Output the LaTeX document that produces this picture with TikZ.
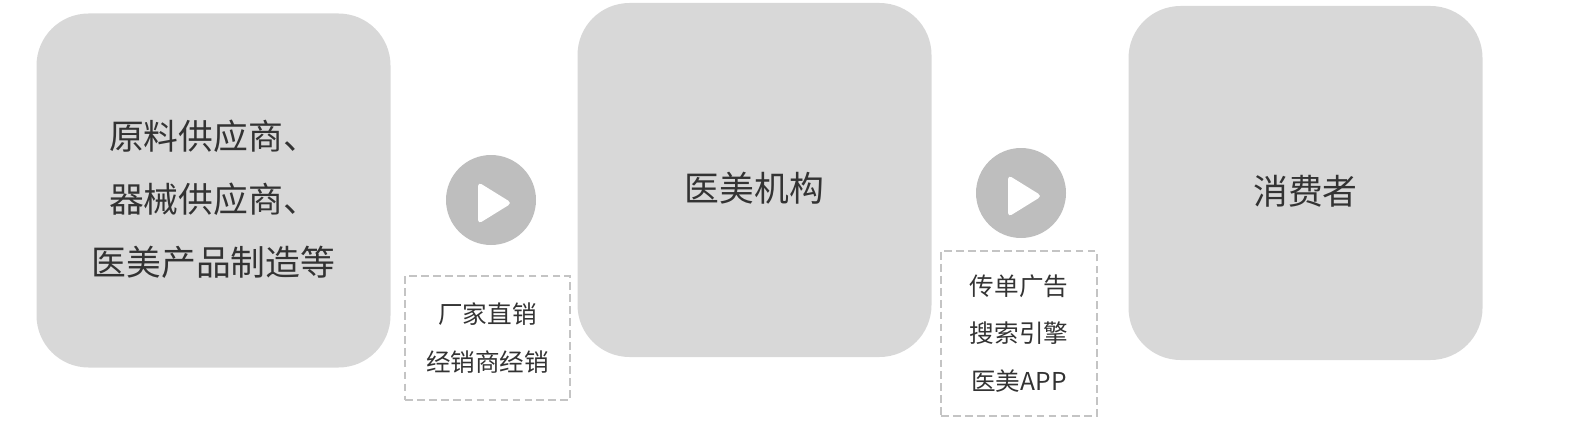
\documentclass[tikz,border=0pt]{standalone}
\usepackage{fontspec}
\setmainfont{Noto Sans CJK SC}
\usepackage{tikz}
\usetikzlibrary{positioning}
\usepackage{xcolor}

\definecolor{boxgrey}{HTML}{D8D8D8}
\definecolor{dotgrey}{HTML}{BEBEBE}
\definecolor{dashgrey}{HTML}{C4C4C4}
\definecolor{ink}{HTML}{333333}

\tikzset{
  stage/.style={rectangle, fill=boxgrey, rounded corners=5.2mm, inner sep=0pt,
    minimum width=35.4mm, minimum height=35.4mm},
  bigtext/.style={text=ink, align=center, inner sep=0pt, font=\fontsize{9.9pt}{17.9pt}\selectfont},
  playdot/.style={circle, fill=dotgrey, inner sep=0pt, minimum size=9mm},
  channel/.style={rectangle, draw=dashgrey, line width=0.4pt, dash pattern=on 2.2pt off 1.2pt,
    text=ink, align=center, inner sep=0pt, font=\fontsize{7pt}{13.6pt}\selectfont}
}

\begin{document}
\begin{tikzpicture}[x=0.1mm,y=-0.1mm]
\useasboundingbox (0,0) rectangle (1593,427);
% the three stages
\node[stage] (maker) at (213.5,190.5) {};
\node[stage] (clinic) at (754.5,180) {};
\node[stage] (buyer) at (1305.5,183) {};
\node[bigtext] (makertext) at ([yshift=-0.85mm]maker.center) {原料供应商、\\器械供应商、\\医美产品制造等};
\node[bigtext] (clinictext) at ([yshift=-0.85mm]clinic.center) {医美机构};
\node[bigtext] (buyertext) at ([yshift=-0.85mm]buyer.center) {消费者};
% play marks between the stages
\node[playdot] (play1) at (491,200) {};
\node[playdot] (play2) at (1021,193) {};
\fill[white, rounded corners=1.2pt, shift={(play1.center)}] (-13,-18) -- (-13,24) -- (21,3) -- cycle;
\fill[white, rounded corners=1.2pt, shift={(play2.center)}] (-13,-18) -- (-13,24) -- (21,3) -- cycle;
% channels
\node[channel, minimum width=16.5mm, minimum height=12.4mm] (supply) at (487.5,338) {厂家直销\\经销商经销};
\node[channel, minimum width=15.6mm, minimum height=16.5mm] (promo) at (1019,333.5) {传单广告\\搜索引擎\\医美APP};
\end{tikzpicture}
\end{document}
